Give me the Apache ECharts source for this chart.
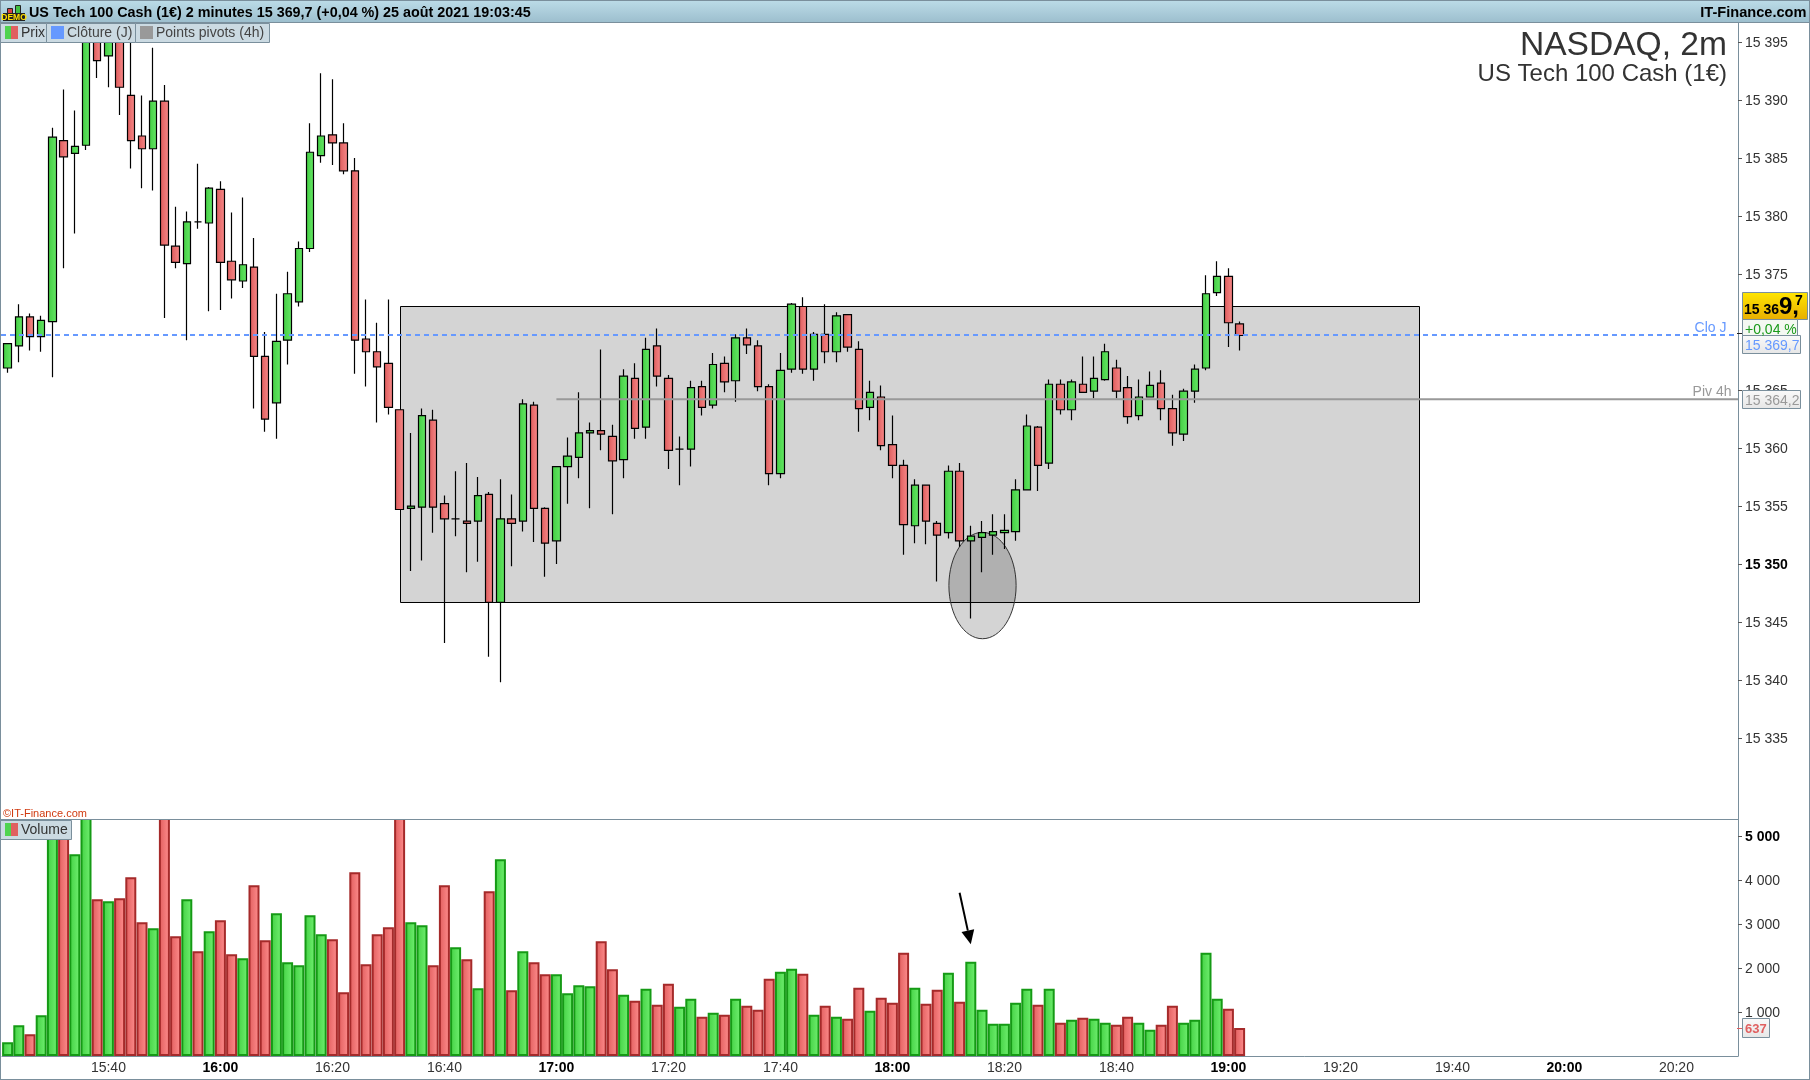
<!DOCTYPE html>
<html><head><meta charset="utf-8">
<style>html,body{margin:0;padding:0;background:#fff}#c{width:1810px;height:1080px}</style>
<script src="https://cdn.jsdelivr.net/npm/echarts@6/dist/echarts.min.js"></script>
</head><body><div id="c"></div>
<script>
const categories = ("15:22 15:24 15:26 15:28 15:30 15:32 15:34 15:36 15:38 15:40 15:42 15:44 15:46 15:48 15:50 15:52 15:54 15:56 15:58 16:00 "+
"16:02 16:04 16:06 16:08 16:10 16:12 16:14 16:16 16:18 16:20 16:22 16:24 16:26 16:28 16:30 16:32 16:34 16:36 16:38 16:40 "+
"16:42 16:44 16:46 16:48 16:50 16:52 16:54 16:56 16:58 17:00 17:02 17:04 17:06 17:08 17:10 17:12 17:14 17:16 17:18 17:20 "+
"17:22 17:24 17:26 17:28 17:30 17:32 17:34 17:36 17:38 17:40 17:42 17:44 17:46 17:48 17:50 17:52 17:54 17:56 17:58 18:00 "+
"18:02 18:04 18:06 18:08 18:10 18:12 18:14 18:16 18:18 18:20 18:22 18:24 18:26 18:28 18:30 18:32 18:34 18:36 18:38 18:40 "+
"18:42 18:44 18:46 18:48 18:50 18:52 18:54 18:56 18:58 19:00 19:02 19:04 19:06 19:08 19:10 19:12 19:14 19:16 19:18 19:20 "+
"19:22 19:24 19:26 19:28 19:30 19:32 19:34 19:36 19:38 19:40 19:42 19:44 19:46 19:48 19:50 19:52 19:54 19:56 19:58 20:00 "+
"20:02 20:04 20:06 20:08 20:10 20:12 20:14 20:16 20:18 20:20 20:22 20:24 20:26 20:28 20:30").split(" ");

const opens = [15366.9,15368.8,15371.3,15369.6,15370.9,15386.5,15385.4,15386.1,15396.9,15393.8,
15397.5,15390.4,15386.9,15385.8,15389.9,15377.4,15375.9,15379.5,15379.4,15382.3,
15376.1,15374.4,15375.6,15367.9,15363.9,15369.3,15372.6,15377.2,15385.2,15387.0,
15386.3,15383.9,15369.4,15368.3,15367.3,15363.3,15354.8,15354.9,15362.4,15355.2,
15353.9,15353.7,15353.7,15356.0,15346.7,15353.9,15353.7,15363.7,15354.8,15352.0,
15358.4,15359.2,15361.3,15361.5,15361.0,15359.0,15366.0,15361.8,15368.8,15366.0,
15359.9,15359.9,15365.3,15363.7,15367.3,15365.8,15369.5,15368.8,15365.3,15357.8,
15366.8,15372.2,15366.8,15369.8,15368.3,15371.5,15368.5,15363.5,15364.4,15360.3,
15358.5,15353.3,15356.8,15353.5,15352.7,15358.0,15352.0,15352.3,15352.5,15352.7,
15352.8,15356.4,15361.8,15358.7,15365.5,15363.3,15365.5,15364.9,15365.9,15366.9,
15365.2,15362.8,15364.4,15365.6,15363.4,15361.2,15364.9,15366.9,15373.4,15374.8,15370.7];
const closes = [15369.0,15371.3,15369.6,15371.0,15386.8,15385.1,15386.0,15397.8,15393.4,15396.0,
15391.1,15386.5,15385.8,15389.9,15377.5,15376.0,15379.5,15379.5,15382.4,15376.0,
15374.5,15375.8,15367.9,15362.5,15369.2,15373.3,15377.2,15385.5,15386.9,15386.3,
15383.9,15369.3,15368.3,15367.0,15363.5,15354.7,15355.0,15362.8,15354.9,15353.9,
15353.9,15353.5,15355.9,15346.7,15353.9,15353.5,15363.8,15354.8,15351.8,15358.4,
15359.3,15361.3,15361.5,15361.2,15358.9,15366.2,15361.7,15368.5,15366.2,15359.8,
15359.9,15365.2,15363.5,15367.2,15365.7,15369.5,15368.9,15365.3,15357.8,15366.7,
15372.4,15366.8,15369.8,15368.3,15371.4,15368.7,15363.4,15364.8,15360.2,15358.5,
15353.4,15356.8,15353.7,15352.5,15358.0,15352.0,15352.4,15352.7,15352.8,15352.9,
15356.4,15361.9,15358.5,15365.5,15363.3,15365.7,15364.8,15366.0,15368.3,15364.9,
15362.7,15364.4,15365.4,15363.4,15361.3,15364.9,15366.8,15373.3,15374.8,15370.8,15369.7];
const lows = [15366.5,15367.4,15368.4,15368.3,15366.1,15375.5,15378.5,15385.7,15391.9,15391.1,
15388.7,15384.1,15382.4,15382.2,15371.2,15375.5,15369.3,15378.9,15371.8,15371.9,
15372.9,15373.8,15363.4,15361.4,15360.8,15367.2,15372.2,15376.9,15384.6,15384.4,
15383.6,15366.4,15365.3,15362.2,15362.9,15354.7,15349.4,15350.3,15352.7,15343.2,
15352.4,15349.3,15350.2,15342.0,15339.8,15349.8,15352.8,15351.9,15348.9,15350.0,
15355.2,15357.4,15354.8,15359.8,15354.3,15357.4,15360.8,15360.8,15365.3,15358.2,
15356.8,15358.4,15362.8,15363.4,15364.8,15364.0,15368.1,15364.9,15356.8,15357.4,
15366.5,15366.4,15365.8,15367.3,15367.4,15368.3,15361.4,15362.4,15359.8,15357.4,
15350.8,15351.8,15351.7,15348.5,15352.2,15351.5,15345.3,15349.3,15350.8,15351.3,
15352.0,15356.4,15356.3,15358.2,15362.9,15362.4,15364.8,15364.3,15365.8,15364.3,
15362.1,15362.4,15364.4,15362.4,15360.2,15360.6,15363.9,15366.7,15373.1,15368.7,15368.4];
const highs = [15369.0,15372.4,15371.6,15371.4,15387.6,15390.9,15389.1,15398.5,15397.5,15397.0,
15398.0,15396.0,15390.4,15394.5,15391.3,15380.8,15380.4,15384.5,15382.5,15383.0,
15380.3,15381.6,15378.1,15370.0,15373.3,15375.2,15377.8,15388.0,15392.3,15391.8,
15388.0,15385.0,15372.8,15370.8,15372.8,15363.3,15361.3,15363.4,15363.3,15355.9,
15358.0,15358.7,15357.5,15356.2,15357.3,15356.0,15364.2,15364.0,15354.9,15358.4,
15360.9,15364.8,15362.2,15368.5,15362.0,15366.8,15367.3,15369.5,15370.3,15366.3,
15361.0,15365.8,15365.8,15368.2,15367.9,15369.8,15370.3,15369.3,15365.5,15368.2,
15372.5,15373.0,15370.0,15372.4,15371.7,15371.5,15369.2,15365.8,15365.4,15362.8,
15359.0,15357.3,15356.8,15353.7,15358.5,15358.7,15353.3,15353.7,15354.3,15354.3,
15357.3,15362.9,15361.9,15365.9,15365.9,15365.9,15367.9,15367.9,15369.0,15367.6,
15366.2,15365.9,15366.6,15366.7,15364.6,15365.1,15367.2,15374.9,15376.1,15375.5,15370.9];
const volumes = [311,697,492,924,5100,5000,4583,5600,3561,3515,
3583,4061,3038,2902,5600,2720,3561,2379,2833,3083,
2311,2220,3879,2629,3242,2129,2061,3197,2765,2652,
1447,4174,2083,2765,2924,5600,3038,2970,2061,3879,
2470,2197,1538,3742,4470,1492,2379,2129,1856,1856,
1424,1606,1583,2606,1970,1394,1258,1530,1167,1644,
1121,1303,894,985,939,1303,1144,1053,1758,1917,
1985,1871,939,1144,894,849,1553,1030,1326,1212,
2349,1553,1189,1508,1894,1235,2144,1053,735,735,
1212,1530,1167,1530,758,826,871,849,758,712,
894,758,598,712,1144,758,826,2349,1303,1076,637];
const greenDojiBars = [40,60];
const priceTicks = [15335,15340,15345,15350,15355,15360,15365,15375,15380,15385,15390,15395];
const boldPriceTicks = [15350];
const volumeTicks = [1000,2000,3000,4000,5000];
const boldVolumeTicks = [5000];
const lastClose = 15369.7;
const pivot4h = 15364.2;
const pivotStartBar = 49;
const boxBars = [35,126], boxPrices = [15372.24,15346.7];
const ellipseBars = [84,90], ellipsePrices = [15352.73,15343.56];
const arrowBars = [85,86], arrowVolumes = [3711,2539];

const FF = '"Liberation Sans", Arial, sans-serif';
const hg = (a,b)=>({type:'linear',x:0,y:0,x2:1,y2:0,colorStops:[{offset:0,color:a},{offset:1,color:b}]});
const vg = (a,b)=>({type:'linear',x:0,y:0,x2:0,y2:1,colorStops:[{offset:0,color:a},{offset:1,color:b}]});
const GREEN = hg('#42cc42','#66e866'), RED = hg('#dc5a5a','#f88a8a');
const VGREEN = hg('#42d042','#72f072'), VRED = hg('#e05c5c','#ff8f8f');
const FRAME = '#7a8f9c';
const spaced = v => String(v).replace(/(\d)(\d{3})$/,'$1 $2');
const isHour = s => s.endsWith(':00');
const labelEvery = (i)=> i%10===9;

const candleData = opens.map((o,i)=>[o,closes[i],lows[i],highs[i]]);
const volumeData = volumes.map((v,i)=>{
  const up = closes[i]>opens[i] || greenDojiBars.includes(i);
  return {value:v,itemStyle:{color:up?VGREEN:VRED,borderColor:up?'#159a15':'#a52a2a',borderWidth:2}};
});

const el = [];
const rect=(x,y,w,h,fill,stroke,lw)=>el.push({type:'rect',z:100,shape:{x,y,width:w,height:h},style:{fill,stroke:stroke||null,lineWidth:lw||1}});
const text=(t,x,y,font,fill,align)=>el.push({type:'text',z:101,style:{text:t,x,y,font:font+' '+FF,fill,textAlign:align||'left',textVerticalAlign:'middle'}});

// title bar & frame
rect(0,0,1810,22,vg('#bcdce8','#9dbfce'));
rect(0,22,1810,1,FRAME);
rect(0,0,1810,1,FRAME);
rect(0,0,1,1080,FRAME);
rect(1809,0,1,1080,FRAME);
rect(0,1079,1810,1,FRAME);
rect(1,815,1736,4,'#fff');
rect(0,819,1738,1,FRAME);
// demo icon
rect(7.5,8.5,5,5,'#d84040','#222');
rect(15.5,5.5,5,8,'#40c040','#222');
rect(3,13,22,8,'#222');
text('DEMO',14,17.5,'bold 8.5px','#ffe000','center');
text('US Tech 100 Cash (1€) 2 minutes 15 369,7 (+0,04 %) 25 août 2021 19:03:45',29,13,'bold 14.35px','#000');
text('IT-Finance.com',1806.5,13,'bold 14.6px','#000','right');
// legends
const LF='#cbdae2';
rect(0.5,23.5,46,19,LF,FRAME);
rect(46.5,23.5,89,19,LF,FRAME);
rect(135.5,23.5,134,19,LF,FRAME);
rect(5,26,7,13,'#4fd34f'); rect(11,26,7,13,'#e06060');
text('Prix',21,33.5,'14px','#333');
rect(51,26,13,13,'#6699ff');
text('Clôture (J)',67,33.5,'14px','#444');
rect(140,26,13,13,'#999999');
text('Points pivots (4h)',156,33.5,'14px','#444');
text('©IT-Finance.com',3,813.5,'11px','#d03a10');
rect(0.5,820.5,71,19,LF,FRAME);
rect(5,823,7,13,'#4fd34f'); rect(11,823,7,13,'#e06060');
text('Volume',21,830,'14px','#333');
// titles
text('NASDAQ, 2m',1727,46,'33.6px','#333','right');
text('US Tech 100 Cash (1€)',1727,74,'24px','#333','right');
// right side tags
text('Clo J',1726.5,328,'14px','#6699ff','right');
text('Piv 4h',1731.5,392,'14px','#999','right');
rect(1737,333,6,1,'#222');
rect(1742.5,292.5,65,27,vg('#ffe600','#e8ae00'),FRAME);
text('15 36',1744,310,'bold 14px','#000');
text('9,',1779,307,'bold 24px','#000');
text('7',1795,301,'bold 14px','#000');
rect(1742.5,319.5,55,17,'#f4f8f2',FRAME);
text('+0,04 %',1745,330,'14px','#1a9a1a');
rect(1742.5,335.5,58,18,vg('#fafafa','#e6e6e6'),FRAME);
text('15 369,7',1745,346,'14px','#6699ff');
rect(1742.5,390.5,58,18,vg('#fafafa','#e6e6e6'),FRAME);
text('15 364,2',1745,401,'14px','#999');
rect(1737,1028,6,1,'#e06060');
rect(1742.5,1018.5,27,19,vg('#fafafa','#e6e6e6'),FRAME);
text('637',1745,1029.5,'bold 13px','#e06060');

const option = {
  animation:false, backgroundColor:'#fff',
  textStyle:{fontFamily:FF},
  grid:[{left:2,width:1736,top:23,height:796},{left:2,width:1736,top:819,height:237}],
  xAxis:[
    {type:'category',gridIndex:0,data:categories,axisLabel:{show:false},axisTick:{show:false},axisLine:{show:false},splitLine:{show:false}},
    {type:'category',gridIndex:1,data:categories,
     axisLine:{lineStyle:{color:FRAME,width:1}},
     axisTick:{alignWithLabel:true,interval:labelEvery,length:5,lineStyle:{color:FRAME}},
     axisLabel:{interval:labelEvery,margin:5,fontSize:14,color:'#333',fontFamily:FF,
       formatter:v=>isHour(v)?'{b|'+v+'}':v,
       rich:{b:{fontWeight:'bold',fontSize:14,color:'#000',fontFamily:FF}}},
     splitLine:{show:false}}
  ],
  yAxis:[
    {type:'value',gridIndex:0,position:'right',min:15328.02,max:15396.64,scale:true,
     splitLine:{show:false},
     axisLine:{show:true,lineStyle:{color:FRAME,width:1}},
     axisTick:{show:true,length:4,inside:false,customValues:priceTicks,lineStyle:{color:'#555'}},
     axisLabel:{margin:7,fontSize:14,color:'#333',fontFamily:FF,customValues:priceTicks,padding:[2,0,0,0],
       formatter:v=>boldPriceTicks.includes(v)?'{b|'+spaced(v)+'}':spaced(v),
       rich:{b:{fontWeight:'bold',fontSize:14,color:'#000',fontFamily:FF}}}},
    {type:'value',gridIndex:1,position:'right',min:0,max:5386,
     splitLine:{show:false},
     axisLine:{show:true,lineStyle:{color:FRAME,width:1}},
     axisTick:{show:true,length:4,customValues:volumeTicks,lineStyle:{color:'#555'}},
     axisLabel:{margin:7,fontSize:14,color:'#333',fontFamily:FF,customValues:volumeTicks,padding:[2,0,0,0],
       formatter:v=>boldVolumeTicks.includes(v)?'{b|'+spaced(v)+'}':spaced(v),
       rich:{b:{fontWeight:'bold',fontSize:14,color:'#000',fontFamily:FF}}}}
  ],
  series:[
    {type:'custom',name:'zones',xAxisIndex:0,yAxisIndex:0,z:1,silent:true,data:[[boxBars[0],boxPrices[0]]],
     renderItem:(p,api)=>{
       const a=api.coord([boxBars[0],boxPrices[0]]), b=api.coord([boxBars[1],boxPrices[1]]);
       const c=api.coord([ellipseBars[0],ellipsePrices[0]]), d=api.coord([ellipseBars[1],ellipsePrices[1]]);
       return {type:'group',children:[
         {type:'rect',shape:{x:Math.round(a[0])+.5,y:Math.round(a[1])+.5,width:Math.round(b[0]-a[0]),height:Math.round(b[1]-a[1])},style:{fill:'#d4d4d4',stroke:'#000',lineWidth:1}},
         {type:'ellipse',shape:{cx:(c[0]+d[0])/2+.5,cy:(c[1]+d[1])/2,rx:(d[0]-c[0])/2,ry:(d[1]-c[1])/2},style:{fill:'rgba(0,0,0,0.17)',stroke:'#333',lineWidth:1}}
       ]};
     }},
    {type:'candlestick',name:'Prix',xAxisIndex:0,yAxisIndex:0,z:2,barWidth:8,data:candleData,
     itemStyle:{color:GREEN,color0:RED,borderColor:'#000',borderColor0:'#000',borderColorDoji:'#000',borderWidth:1.2}},
    {type:'custom',name:'lines',xAxisIndex:0,yAxisIndex:0,z:3,silent:true,data:[[pivotStartBar,pivot4h]],
     renderItem:(p,api)=>{
       const cs=p.coordSys, right=cs.x+cs.width;
       const a=api.coord([pivotStartBar,pivot4h]), y=api.coord([pivotStartBar,lastClose])[1];
       return {type:'group',children:[
         {type:'line',shape:{x1:a[0],y1:a[1],x2:right,y2:a[1]},style:{stroke:'#999',lineWidth:2}},
         {type:'line',shape:{x1:1,y1:y-.5,x2:right,y2:y-.5},style:{stroke:'#6699ff',lineWidth:2,lineDash:[5,4]}}
       ]};
     }},
    {type:'bar',name:'Volume',xAxisIndex:1,yAxisIndex:1,barWidth:11,z:2,data:volumeData},
    {type:'custom',name:'arrow',xAxisIndex:1,yAxisIndex:1,z:3,silent:true,data:[[arrowBars[0],arrowVolumes[0]]],
     renderItem:(p,api)=>{
       const a=api.coord([arrowBars[0],arrowVolumes[0]]), b=api.coord([arrowBars[1],arrowVolumes[1]]);
       const dx=b[0]-a[0],dy=b[1]-a[1],L=Math.hypot(dx,dy),ux=dx/L,uy=dy/L,nx=-uy,ny=ux,hl=14,hw=6.5;
       const bx=b[0]-ux*hl,by=b[1]-uy*hl;
       return {type:'group',children:[
         {type:'line',shape:{x1:a[0],y1:a[1],x2:bx,y2:by},style:{stroke:'#000',lineWidth:2}},
         {type:'polygon',shape:{points:[b,[bx+nx*hw,by+ny*hw],[bx-nx*hw,by-ny*hw]]},style:{fill:'#000'}}
       ]};
     }}
  ],
  graphic:{elements:el}
};
const chart = echarts.init(document.getElementById('c'),null,{renderer:'canvas',width:1810,height:1080});
chart.setOption(option);
</script></body></html>
